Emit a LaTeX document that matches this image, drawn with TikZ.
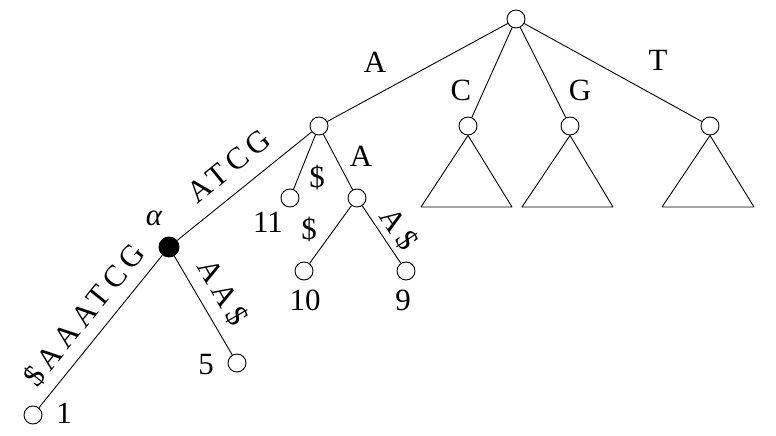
\documentclass[tikz,border=0pt]{standalone}
\usepackage{fontspec}
\setmainfont{Liberation Serif}
\newfontfamily\spacedfont[LetterSpace=18]{Liberation Serif}
\begin{document}
\begin{tikzpicture}[>=latex,line join=bevel,line width=0.9bp,
    font=\fontsize{31}{33}\selectfont,
    vert/.style={draw,circle,inner sep=0pt,minimum size=18bp},
    branch/.style={draw,circle,fill=black,inner sep=0pt,minimum size=20bp},
    lbl/.style={inner sep=0pt},
    edgelbl/.style={inner sep=0pt,font=\fontsize{31}{33}\spacedfont}]
    \useasboundingbox (0bp,0bp) rectangle (776bp,436bp);
    %%
    \node (root) at (516bp,417bp) [vert] {};
    \node (a) at (319bp,310bp) [vert] {};
    \node (c) at (468bp,310bp) [vert] {};
    \node (g) at (570bp,310bp) [vert] {};
    \node (t) at (710bp,310bp) [vert] {};
    \node (11) at (290bp,238bp) [vert] {};
    \node (aa) at (357bp,238bp) [vert] {};
    \node (10) at (304bp,165bp) [vert] {};
    \node (9) at (406bp,165bp) [vert] {};
    \node (alpha) at (169bp,189bp) [branch] {};
    \node (5) at (237bp,73bp) [vert] {};
    \node (1) at (33bp,21bp) [vert] {};
    %%
    \draw (root) -- (a);
    \draw (root) -- (c);
    \draw (root) -- (g);
    \draw (root) -- (t);
    \draw (a) -- (11);
    \draw (a) -- (aa);
    \draw (aa) -- (10);
    \draw (aa) -- (9);
    \draw (a) -- (alpha);
    \draw (alpha) -- (5);
    \draw (alpha) -- (1);
    %% subtrees
    \draw (c.south) -- (421bp,229bp) -- (512bp,229bp) -- cycle;
    \draw (g.south) -- (522bp,229bp) -- (613bp,229bp) -- cycle;
    \draw (t.south) -- (662bp,229bp) -- (754bp,229bp) -- cycle;
    %% labels
    \node (l1) at (64bp,23bp) [lbl] {1};
    \node (l5) at (206bp,71bp) [lbl] {5};
    \node (l11) at (268bp,214bp) [lbl] {11};
    \node (l10) at (305bp,136bp) [lbl] {10};
    \node (l9) at (403bp,136bp) [lbl] {9};
    \node (lalpha) at (154bp,218bp) [lbl] {\itshape α};
    \node (ea) at (375bp,374bp) [lbl] {A};
    \node (ec) at (461bp,346bp) [lbl] {C};
    \node (eg) at (580bp,346bp) [lbl] {G};
    \node (et) at (658bp,376bp) [lbl] {T};
    \node (e11) at (317bp,259bp) [lbl] {\$};
    \node (eaa) at (361bp,280bp) [lbl] {A};
    \node (e10) at (309bp,207bp) [lbl] {\$};
    \node (e9) at (399bp,207bp) [edgelbl,rotate=-56.5] {A\$};
    \node (ealpha) at (229bp,270bp) [edgelbl,rotate=39] {ATCG};
    \node (e1) at (84bp,121bp) [edgelbl,rotate=51] {\$AAATCG};
    \node (e5) at (223bp,144bp) [edgelbl,rotate=-60] {AA\$};
    %
\end{tikzpicture}
\end{document}
